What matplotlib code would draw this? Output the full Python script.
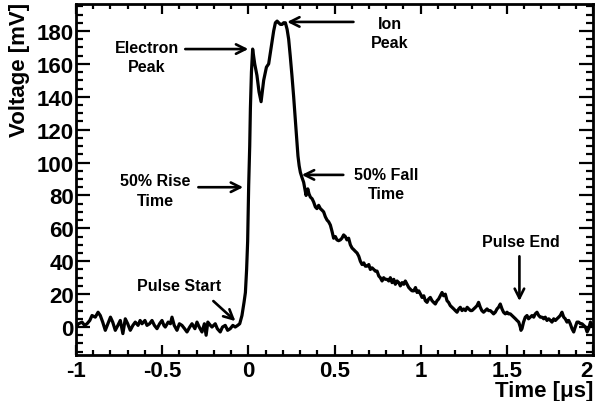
import matplotlib
matplotlib.use("Agg")
import matplotlib.pyplot as plt
from matplotlib.ticker import MultipleLocator, FormatStrFormatter

# waveform (time in us, voltage in mV)
time_us = [
    -1.00, -0.985, -0.965, -0.95, -0.936, -0.92, -0.907, -0.888, -0.872, -0.859,
    -0.845, -0.83, -0.815, -0.80, -0.787, -0.772, -0.757, -0.743, -0.728, -0.714,
    -0.70, -0.685, -0.67, -0.656, -0.64, -0.628, -0.617, -0.60, -0.588, -0.573,
    -0.559, -0.545, -0.53, -0.515, -0.501, -0.49, -0.482, -0.465, -0.452, -0.443,
    -0.43, -0.414, -0.40, -0.385, -0.37, -0.356, -0.34, -0.327, -0.31, -0.298,
    -0.285, -0.269, -0.255, -0.245, -0.235, -0.22, -0.211, -0.192, -0.18, -0.163,
    -0.15, -0.134, -0.12, -0.105, -0.09, -0.076, -0.062, -0.05, -0.037, -0.025,
    -0.017, -0.01, -0.004, 0.002, 0.008, 0.012, 0.018, 0.025, 0.037, 0.05,
    0.062, 0.074, 0.082, 0.089, 0.097, 0.105, 0.118, 0.128, 0.137, 0.147,
    0.157, 0.167, 0.176, 0.186, 0.196, 0.205, 0.215, 0.225, 0.234, 0.243,
    0.253, 0.263, 0.273, 0.281, 0.288, 0.295, 0.302, 0.311, 0.321, 0.328,
    0.335, 0.345, 0.352, 0.36, 0.37, 0.379, 0.389, 0.398, 0.408, 0.418,
    0.428, 0.437, 0.447, 0.457, 0.466, 0.476, 0.486, 0.495, 0.505, 0.514,
    0.524, 0.534, 0.543, 0.553, 0.563, 0.572, 0.582, 0.592, 0.602, 0.612,
    0.621, 0.631, 0.641, 0.65, 0.66, 0.67, 0.679, 0.689, 0.699, 0.708,
    0.718, 0.728, 0.737, 0.747, 0.757, 0.766, 0.776, 0.785, 0.795, 0.805,
    0.815, 0.824, 0.834, 0.844, 0.853, 0.863, 0.873, 0.882, 0.892, 0.902,
    0.911, 0.921, 0.931, 0.94, 0.95, 0.96, 0.97, 0.979, 0.989, 0.999,
    1.008, 1.018, 1.027, 1.037, 1.046, 1.056, 1.066, 1.075, 1.085, 1.095,
    1.104, 1.114, 1.124, 1.133, 1.143, 1.153, 1.162, 1.172, 1.182, 1.192,
    1.201, 1.211, 1.221, 1.23, 1.24, 1.25, 1.26, 1.27, 1.279, 1.289,
    1.298, 1.308, 1.318, 1.327, 1.336, 1.346, 1.355, 1.365, 1.375, 1.385,
    1.394, 1.404, 1.414, 1.423, 1.433, 1.443, 1.452, 1.462, 1.472, 1.481,
    1.491, 1.501, 1.51, 1.52, 1.53, 1.54, 1.55, 1.559, 1.569, 1.578,
    1.582, 1.588, 1.597, 1.607, 1.617, 1.626, 1.636, 1.646, 1.656, 1.665,
    1.675, 1.685, 1.694, 1.704, 1.714, 1.723, 1.733, 1.743, 1.753, 1.762,
    1.772, 1.782, 1.791, 1.801, 1.81, 1.82, 1.83, 1.839, 1.849, 1.859,
    1.868, 1.878, 1.888, 1.897, 1.907, 1.917, 1.927, 1.936, 1.946, 1.956,
    1.966, 1.975, 1.985, 1.995, 2.0,
]
voltage_mv = [
    0, 2, 3, 1, 2, 4, 7, 6, 9, 7,
    3, -2, 2, 6, 3, -2, 1, 4, -4, 5,
    2, -2, 1, 3, 1, 4, 2, 4, 1, 2,
    4, 1, -1, 2, 4, 1, 0, 3, 2, 6,
    1, -2, 2, 1, -1, -3, 0, 2, -1, 3,
    0, -3, 2, -5, 3, 1, 0, 2, -1, -3,
    0, 1, -2, -1, 1, 0, 1, 2, 7, 15,
    21, 35, 52, 86, 110, 133, 155, 169, 160, 153,
    143, 137, 144, 150, 154, 158, 160, 167, 173, 180,
    185, 186, 185, 184, 184, 185, 185, 181, 175, 165,
    153, 140, 126, 114, 104, 98, 94, 91, 88, 84,
    80, 84, 81, 79, 78, 76, 73, 72, 74, 72,
    71, 70, 67, 65, 64, 62, 58, 54, 55, 53,
    52.5, 53, 54, 56, 55, 53, 54, 50, 48, 47,
    46, 45, 43, 40, 38, 39, 37, 37, 38, 35,
    36, 35, 34, 34, 31, 30, 28, 30, 29, 29,
    28, 30, 27, 29, 26, 28, 27, 25, 27, 26,
    28, 26, 24, 23, 22, 22, 24, 21, 22, 20,
    18, 19, 16, 15, 17, 18, 16, 15, 14, 16,
    17, 19, 21, 19, 20, 16, 15, 13, 12, 11,
    10, 9, 11, 12, 10, 11, 10, 12, 11, 10,
    10, 11, 12, 13, 15, 12, 10, 9, 10, 11,
    10, 10, 9, 8, 9, 11, 12, 14, 11, 9,
    8, 9, 8, 8, 7, 6, 5, 4, 3, 0,
    -2, -1, 3, 6, 7, 5, 6, 7, 6, 8,
    9, 7, 6, 6, 5, 6, 4, 5, 4, 3,
    5, 4, 5, 6, 7, 9, 6, 5, 3, 4,
    2, -1, -3, 0, 3, 3, 2, 2, 1, 0,
    -3, -1, 3, 1, 1,
]

# annotation labels: (text, text position, arrow tip)
notes = [
    ("Electron\nPeak", (-0.59, 164), (0.0, 169)),
    ("Ion\nPeak", (0.82, 179), (0.225, 185.5)),
    ("50% Rise\nTime", (-0.54, 83), (-0.03, 85)),
    ("50% Fall\nTime", (0.80, 87), (0.31, 92.5)),
    ("Pulse Start", (-0.40, 25), (-0.075, 3.6)),
    ("Pulse End", (1.58, 52), (1.573, 15.8)),
]
arrow_tails = [(-0.366, 169), (0.61, 185.5), (-0.29, 85), (0.551, 92.5),
               (-0.203, 15.8), (1.573, 43)]

plt.rcParams['font.family'] = ['Liberation Sans', 'DejaVu Sans']
plt.rcParams['font.weight'] = 'bold'
plt.rcParams['axes.unicode_minus'] = False

fig = plt.figure(figsize=(5.95, 4.02), dpi=100)
ax = fig.add_axes([76 / 595, 1 - 355.5 / 402, 517 / 595, 350.5 / 402])

ax.plot(time_us, voltage_mv, color='black', lw=2.3, solid_joinstyle='round')

ax.set_xlim(-1, 2)
ax.set_ylim(-16.7, 196.4)

ax.xaxis.set_major_locator(MultipleLocator(0.5))
ax.xaxis.set_minor_locator(MultipleLocator(0.1))
ax.yaxis.set_major_locator(MultipleLocator(20))
ax.yaxis.set_minor_locator(MultipleLocator(5))
ax.xaxis.set_major_formatter(FormatStrFormatter('%g'))
ax.yaxis.set_major_formatter(FormatStrFormatter('%g'))

for s in ax.spines.values():
    s.set_linewidth(2.0)

ax.tick_params(axis='x', which='both', direction='in', top=True, width=1.6,
               labelsize=16, pad=4)
ax.tick_params(axis='x', which='major', length=7.5)
ax.tick_params(axis='x', which='minor', length=3.8)
ax.tick_params(axis='y', which='both', direction='in', right=True, width=1.6,
               labelsize=16, pad=1.5)
ax.tick_params(axis='y', which='major', length=10)
ax.tick_params(axis='y', which='minor', length=5)

# keep the last x label ("2") inside the canvas
fig.canvas.draw()
xlabels = ax.get_xticklabels()
for lab in xlabels:
    if lab.get_text() == '2':
        lab.set_horizontalalignment('right')
        lab.set_x(lab.get_position()[0])

fig.text(593 / 595, 1 - 392 / 402, 'Time [\u03bcs]', ha='right', va='center',
         fontsize=16, fontweight='bold')
fig.text(20 / 595, 1 - 3 / 402, 'Voltage [mV]', ha='center', va='top',
         rotation=90, fontsize=16, fontweight='bold')

for (txt, tpos, tip), tail in zip(notes, arrow_tails):
    ax.text(tpos[0], tpos[1], txt, ha='center', va='center', fontsize=11.5,
            fontweight='bold', linespacing=1.35)
    ax.annotate('', xy=tip, xytext=tail,
                arrowprops=dict(arrowstyle='->', color='black', lw=1.9,
                                mutation_scale=17, shrinkA=0, shrinkB=0))

fig.savefig('out.png', dpi=100)
